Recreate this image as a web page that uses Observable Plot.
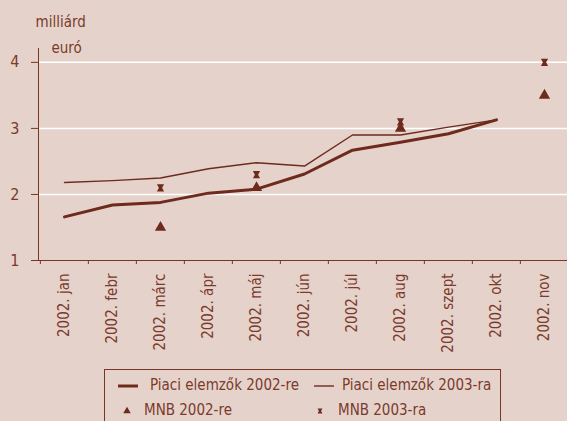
<!DOCTYPE html>
<html>
<head>
<meta charset="utf-8">
<script src="https://cdn.jsdelivr.net/npm/d3@7"></script>
<script src="https://cdn.jsdelivr.net/npm/@observablehq/plot@0.6"></script>
<style>
  html, body { margin: 0; padding: 0; background: #e5d3cb; overflow: hidden; }
  #wrap { position: relative; width: 567px; height: 421px; background: #e5d3cb;
    font-family: "Liberation Sans Narrow", "DejaVu Sans Condensed", sans-serif; color: #7b3a2b; }
  #chart svg { display: block; }
  #legend { position: absolute; left: 104px; top: 369px; width: 397px; height: 70px;
    border: 1px solid #7a3526; box-sizing: border-box; font-size: 15px; }
  .item { position: absolute; display: flex; align-items: center; white-space: nowrap; line-height: 17px; }
  .item svg { display: block; }
</style>
</head>
<body>
<div id="wrap">
  <div id="chart"></div>
  <div id="legend"></div>
</div>
<script>
const months = ["2002. jan","2002. febr","2002. márc","2002. ápr","2002. máj","2002. jún","2002. júl","2002. aug","2002. szept","2002. okt","2002. nov"];
const piaciMonths = months.slice(0, 10);
const piaci2002 = [1.66, 1.84, 1.88, 2.02, 2.08, 2.31, 2.67, 2.79, 2.92, 3.13];
const piaci2003 = [2.18, 2.21, 2.25, 2.39, 2.48, 2.43, 2.90, 2.90, 3.02, 3.13];
const mnbMonths = ["2002. márc", "2002. máj", "2002. aug", "2002. nov"];
const mnb2002 = [1.5, 2.1, 3.0, 3.5];
const mnb2003 = [2.1, 2.3, 3.1, 4.0];
const yTicks = [1, 2, 3, 4];
const seriesNames = ["Piaci elemzők 2002-re", "Piaci elemzők 2003-ra", "MNB 2002-re", "MNB 2003-ra"];

const ink = "#6e2a1d";
const axisInk = "#7a3526";
const textInk = "#7b3a2b";
const FONT = "'Liberation Sans Narrow', 'DejaVu Sans Condensed', sans-serif";

const lineA = piaciMonths.map((m, i) => ({m, v: piaci2002[i]}));
const lineB = piaciMonths.map((m, i) => ({m, v: piaci2003[i]}));
const dotsA = mnbMonths.map((m, i) => ({m, v: mnb2002[i]}));
const dotsB = mnbMonths.map((m, i) => ({m, v: mnb2003[i]}));

// hourglass symbol
const hourglass = {
  draw(ctx, size) {
    const s = Math.sqrt(size / Math.PI);
    ctx.moveTo(-s, -s);
    ctx.lineTo(s, -s);
    ctx.lineTo(s * 0.45, 0);
    ctx.lineTo(s, s);
    ctx.lineTo(-s, s);
    ctx.lineTo(-s * 0.45, 0);
    ctx.closePath();
  }
};

const W = 567, H = 360;
const x0 = 38, x1 = 569;
const bw = (x1 - x0) / months.length;

const chart = Plot.plot({
  width: W,
  height: H,
  marginLeft: x0,
  marginRight: 0,
  marginTop: 48,
  marginBottom: 100,
  style: {background: "transparent", fontFamily: FONT, fontSize: "15px", color: textInk},
  x: {type: "band", domain: months, range: [x0, x1], padding: 0, label: null},
  y: {domain: [1, 4.21], label: null},
  marks: [
    Plot.gridY(yTicks.slice(1), {stroke: "#ffffff", strokeOpacity: 1, strokeWidth: 1.5}),
    Plot.frame({anchor: "left", stroke: axisInk}),
    Plot.ruleY([1], {stroke: axisInk}),
    Plot.axisY({ticks: yTicks, tickFormat: d3.format("d"), tickSize: 7, tickPadding: 12, stroke: axisInk, fill: textInk, label: null, fontSize: 16}),
    Plot.axisX({ticks: months, tickSize: 4, tickFormat: () => "", stroke: axisInk, dx: -bw / 2, label: null}),
    Plot.axisX({ticks: months, tickSize: 0, tickPadding: 13, tickRotate: -90, fill: textInk, label: null, fontSize: 15}),
    Plot.line(lineB, {x: "m", y: "v", stroke: ink, strokeWidth: 1.4}),
    Plot.line(lineA, {x: "m", y: "v", stroke: ink, strokeWidth: 3}),
    Plot.dot(dotsA, {x: "m", y: "v", symbol: "triangle", fill: ink, r: 4.2}),
    Plot.dot(dotsB, {x: "m", y: "v", symbol: hourglass, fill: ink, r: 3.6}),
    Plot.text(["milliárd"], {frameAnchor: "top-left", dx: -3, dy: -22, textAnchor: "start", lineAnchor: "bottom", fill: textInk, fontSize: 15}),
    Plot.text(["euró"], {frameAnchor: "top-left", dx: 13, dy: 4, textAnchor: "start", lineAnchor: "bottom", fill: textInk, fontSize: 15})
  ]
});
document.getElementById("chart").appendChild(chart);

// legend
const legend = document.getElementById("legend");
function swatch(kind) {
  const ns = "http://www.w3.org/2000/svg";
  const svg = document.createElementNS(ns, "svg");
  const isLine = kind === "thick" || kind === "thin";
  svg.setAttribute("width", isLine ? 24 : 12); svg.setAttribute("height", 12);
  let el;
  if (isLine) {
    el = document.createElementNS(ns, "line");
    el.setAttribute("x1", 2); el.setAttribute("x2", 22); el.setAttribute("y1", 6); el.setAttribute("y2", 6);
    el.setAttribute("stroke", ink); el.setAttribute("stroke-width", kind === "thick" ? 3 : 1.4);
  } else {
    el = document.createElementNS(ns, "path");
    const p = d3.path();
    if (kind === "tri") { d3.symbolTriangle.draw(p, Math.PI * 2.8 * 2.8); }
    else { hourglass.draw(p, Math.PI * 2.4 * 2.4); }
    el.setAttribute("d", p.toString());
    el.setAttribute("transform", "translate(6,6)");
    el.setAttribute("fill", ink);
  }
  svg.appendChild(el);
  return svg;
}
const items = [
  {name: seriesNames[0], kind: "thick", left: 11, top: 7, gap: 10},
  {name: seriesNames[1], kind: "thin", left: 207, top: 7, gap: 6},
  {name: seriesNames[2], kind: "tri", left: 16, top: 32, gap: 11},
  {name: seriesNames[3], kind: "hg", left: 209, top: 32, gap: 12}
];
for (const it of items) {
  const d = document.createElement("div");
  d.className = "item";
  d.style.left = it.left + "px";
  d.style.top = it.top + "px";
  d.appendChild(swatch(it.kind));
  const s = document.createElement("span");
  s.textContent = it.name;
  s.style.marginLeft = it.gap + "px";
  d.appendChild(s);
  legend.appendChild(d);
}
</script>
</body>
</html>
